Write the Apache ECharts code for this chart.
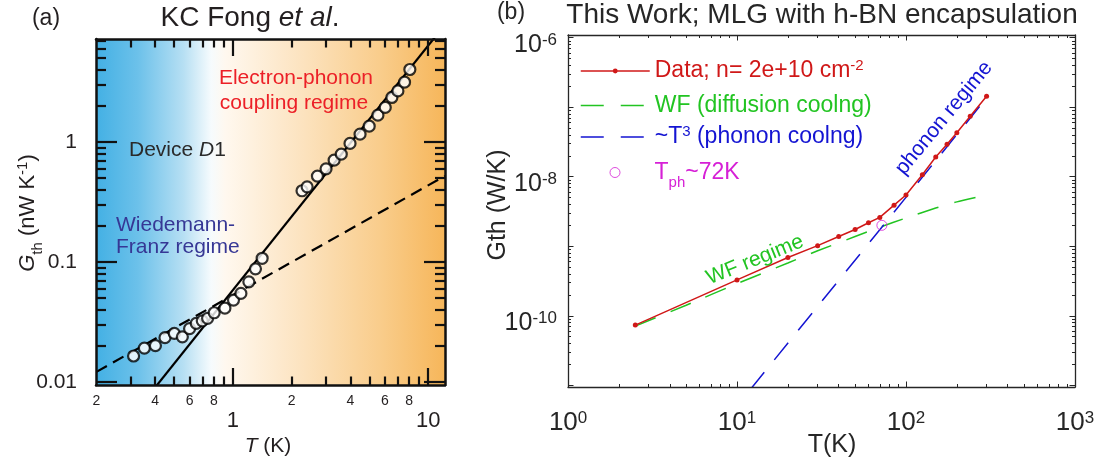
<!DOCTYPE html>
<html>
<head>
<meta charset="utf-8">
<script src="https://cdn.jsdelivr.net/npm/echarts@6/dist/echarts.min.js"></script>
<style>
  html, body { margin: 0; padding: 0; background: #fff; }
  #chart { width: 1101px; height: 466px; }
</style>
</head>
<body>
<div id="chart"></div>
<script>
// ---- (a) KC Fong et al. ----
const fongT = [0.31, 0.352, 0.401, 0.449, 0.501, 0.551, 0.600, 0.649, 0.697, 0.742, 0.802, 0.910,
  1.007, 1.099, 1.207, 1.305, 1.412, 2.26, 2.40, 2.71, 3.00, 3.30, 3.59, 3.98, 4.48, 4.99, 5.53,
  6.03, 6.52, 7.00, 7.57, 8.06]
const fongG = [0.0164, 0.0191, 0.0200, 0.0233, 0.0253, 0.0237, 0.0277, 0.0307, 0.0322, 0.0338, 0.0376,
  0.0411, 0.0480, 0.0545, 0.0681, 0.0874, 0.107, 0.391, 0.422, 0.518, 0.596, 0.704, 0.790, 0.970,
  1.159, 1.351, 1.669, 1.935, 2.344, 2.66, 3.145, 4.01]
// electron-phonon fit (solid) and Wiedemann-Franz line (dashed)
const ephT = [0.3, 12.2]
const ephG = [0.0050, 9.5]
const wfaT = [0.2, 12.2]
const wfaG = [0.0121, 0.52]

// tick values / labels, panel (a)
const aXMinor = [0.3, 0.4, 0.5, 0.6, 0.7, 0.8, 0.9, 2, 3, 4, 5, 6, 7, 8, 9]
const aXMajor = [1, 10]
const aXSmallVals = [0.2, 0.4, 0.6, 0.8, 2, 4, 6, 8]
const aXSmallText = ['2', '4', '6', '8', '2', '4', '6', '8']
const aXBigText = ['1', '10']
const aYMinor = [0.02, 0.03, 0.04, 0.05, 0.06, 0.07, 0.08, 0.09, 0.2, 0.3, 0.4, 0.5, 0.6, 0.7, 0.8, 0.9, 2, 3, 4, 5, 6, 7]
const aYMajor = [0.01, 0.1, 1]
const aYText = ['0.01', '0.1', '1']

// ---- (b) This work ----
const dataT = [2.5, 10, 20, 30, 40, 50, 60, 70, 85, 100, 125, 150, 175, 200, 240, 300]
const dataG = [7.35e-11, 3.28e-10, 6.89e-10, 1.02e-9, 1.38e-9, 1.74e-9, 2.18e-9, 2.6e-9, 3.9e-9,
  5.46e-9, 1.07e-8, 1.92e-8, 2.93e-8, 4.3e-8, 7.4e-8, 1.44e-7]
const wfbT = [2.5, 5, 10, 20, 30, 50, 70, 100, 150, 200, 300]
const wfbG = [7.1e-11, 1.42e-10, 2.9e-10, 5.75e-10, 8.6e-10, 1.38e-9, 1.88e-9, 2.55e-9, 3.55e-9, 4.35e-9, 5.46e-9]
const phT = [12, 300]
const phG = [8.73e-12, 1.364e-7]
const tphT = [72]
const tphG = [2.0e-9]

// tick values / labels, panel (b)
const bXMajor = [1, 10, 100, 1000]
const bXText = ['0', '1', '2', '3']
const bXMinor = [2, 3, 4, 5, 6, 7, 8, 9, 20, 30, 40, 50, 60, 70, 80, 90, 200, 300, 400, 500, 600, 700, 800, 900]
const bYMajor = [1e-11, 1e-10, 1e-9, 1e-8, 1e-7, 1e-6]
const bYLabelVals = [1e-10, 1e-8, 1e-6]
const bYText = ['-10', '-8', '-6']
const bYMinor = []
bYMajor.slice(0, 5).forEach(d => { for (let k = 2; k <= 9; k++) bYMinor.push(k * d) })

const FONT = '"Liberation Sans", Arial, Helvetica, sans-serif'
const INK_A = '#231f20'
const INK_B = '#262626'
const RED = '#d01818'
const GREEN = '#22c422'
const BLUE = '#1414d2'
const MAG = '#d620d6'

const zip = (xs, ys) => xs.map((x, i) => [x, ys[i]])
const pick = (vals, texts) => v => {
  const i = vals.findIndex(x => Math.abs(x - v) / x < 1e-6)
  return i < 0 ? '' : texts[i]
}

// one log axis that draws inward ticks (and optionally its line and labels)
function logAxis(grid, pos, min, max, ticks, len, color, width, line, label) {
  const a = {
    type: 'log', logBase: 10, gridIndex: grid, position: pos, min: min, max: max,
    axisLine: { show: !!line, lineStyle: { color: color, width: line || 1 } },
    splitLine: { show: false },
    axisTick: { show: true, inside: true, length: len, customValues: ticks, lineStyle: { color: color, width: width } },
    axisLabel: { show: false },
    z: 10
  }
  if (label) a.axisLabel = Object.assign({ show: true, hideOverlap: false, fontFamily: FONT }, label)
  return a
}

const supRich = (size, sup, color) => ({
  b: { fontSize: size, lineHeight: 26, verticalAlign: 'middle', color: color, fontFamily: FONT },
  s: { fontSize: sup, lineHeight: 16, padding: [0, 0, 18, 0], verticalAlign: 'top', color: color, fontFamily: FONT }
})

const aX = [0.199, 12.2]
const aY = [0.0094, 7.2]
const bX = [0.999, 1001]
const bY = [9.45e-12, 1.094e-6]

const xAxes = [
  logAxis(0, 'bottom', aX[0], aX[1], aXMinor, 8.5, '#111', 2.2, 0, {
    customValues: aXSmallVals, formatter: pick(aXSmallVals, aXSmallText), fontSize: 14, color: INK_A, margin: 9
  }),
  logAxis(0, 'bottom', aX[0], aX[1], aXMajor, 17, '#111', 2.2, 2.5, {
    customValues: aXMajor, formatter: pick(aXMajor, aXBigText), fontSize: 22, color: INK_A, margin: 25
  }),
  logAxis(0, 'top', aX[0], aX[1], aXMinor, 8.5, '#111', 2.2, 0),
  logAxis(0, 'top', aX[0], aX[1], aXMajor, 17, '#111', 2.2, 2.5),
  logAxis(1, 'bottom', bX[0], bX[1], bXMinor, 3, INK_B, 1, 0),
  logAxis(1, 'bottom', bX[0], bX[1], bXMajor, 5.5, INK_B, 1, 1.3, {
    customValues: bXMajor,
    formatter: v => '{b|10}{s|' + pick(bXMajor, bXText)(v) + '}',
    margin: 23, rich: supRich(26, 17, INK_B)
  }),
  logAxis(1, 'top', bX[0], bX[1], bXMinor, 3, INK_B, 1, 0),
  logAxis(1, 'top', bX[0], bX[1], bXMajor, 5.5, INK_B, 1, 1.3)
]

const yAxes = [
  logAxis(0, 'left', aY[0], aY[1], aYMinor, 10, '#111', 2.2, 0),
  logAxis(0, 'left', aY[0], aY[1], aYMajor, 21, '#111', 2.2, 2.5, {
    customValues: aYMajor, formatter: pick(aYMajor, aYText), fontSize: 21, color: INK_A, margin: 19
  }),
  logAxis(0, 'right', aY[0], aY[1], aYMinor, 10, '#111', 2.2, 0),
  logAxis(0, 'right', aY[0], aY[1], aYMajor, 21, '#111', 2.2, 2.5),
  logAxis(1, 'left', bY[0], bY[1], bYMinor, 3, INK_B, 1, 0),
  logAxis(1, 'left', bY[0], bY[1], bYMajor, 5.5, INK_B, 1, 1.3, {
    customValues: bYLabelVals,
    formatter: v => '{b|10}{s|' + pick(bYLabelVals, bYText)(v) + '}',
    margin: 11, padding: [14, 0, 0, 0], rich: supRich(25, 17, INK_B)
  }),
  logAxis(1, 'right', bY[0], bY[1], bYMinor, 3, INK_B, 1, 0),
  logAxis(1, 'right', bY[0], bY[1], bYMajor, 5.5, INK_B, 1, 1.3)
]

// panel (a) background: blue (cold) -> white -> orange (hot)
const bgA = new echarts.graphic.LinearGradient(0, 0, 1, 0, [
  { offset: 0, color: '#43b0e4' },
  { offset: 0.12, color: '#6cc1ea' },
  { offset: 0.25, color: '#b6dff3' },
  { offset: 0.33, color: '#f6fbfd' },
  { offset: 0.37, color: '#fff8ef' },
  { offset: 0.6, color: '#fce2bd' },
  { offset: 0.82, color: '#f9cc8a' },
  { offset: 1, color: '#f6b65a' }
])

// rich-text tokens for graphic texts (zrender style: fill)
function tok(size, color, extra) {
  return Object.assign({ fontSize: size, fontFamily: FONT, fill: color, color: color, lineHeight: 26, verticalAlign: 'middle' }, extra || {})
}
function text(x, y, str, size, color, opt) {
  opt = opt || {}
  const rich = {
    n: tok(size, color),
    i: tok(size, color, { fontStyle: 'italic' }),
    u: tok(15, color, { lineHeight: 14, padding: [15, 0, 0, 0], verticalAlign: 'top' }),
    s: tok(15, color, { lineHeight: 14, padding: [0, 0, 16, 0], verticalAlign: 'top' })
  }
  return {
    type: 'text', x: x, y: y, rotation: (opt.rot || 0) * Math.PI / 180, silent: true, z: 100,
    style: {
      text: str, rich: rich, fill: color, fontSize: size, fontFamily: FONT,
      align: opt.align || 'center', verticalAlign: 'middle',
      textAlign: opt.align || 'center', textVerticalAlign: 'middle'
    }
  }
}

const graphics = [
  { type: 'rect', shape: { x: 96, y: 39, width: 349, height: 346 }, style: { fill: bgA }, silent: true, z: -10 },
  text(46, 19, '{n|(a)}', 23, INK_A),
  text(250, 18, '{n|KC Fong }{i|et al}{n|.}', 28, INK_A),
  text(296, 78, '{n|Electron-phonon}', 21, '#ec2027'),
  text(294, 103, '{n|coupling regime}', 21, '#ec2027'),
  text(129, 150, '{n|Device }{i|D}{n|1}', 21, '#2a2a2a', { align: 'left' }),
  text(116, 225, '{n|Wiedemann-}', 21, '#363795', { align: 'left' }),
  text(116, 247, '{n|Franz regime}', 21, '#363795', { align: 'left' }),
  text(268, 446, '{i|T}{n| (K)}', 21, INK_A),
  text(28, 213, '{i|G}{u|th}{n| (nW K}{s|-1}{n|)}', 22, INK_A, { rot: 90 }),
  text(511, 13, '{n|(b)}', 23, INK_B),
  text(822, 15, '{n|This Work; MLG with h-BN encapsulation}', 28, INK_B),
  text(832, 445, '{n|T(K)}', 25, INK_B),
  text(498, 205, '{n|Gth (W/K)}', 25, INK_B, { rot: 90 }),
  text(944, 118, '{n|phonon regime}', 21, BLUE, { rot: 50.5 }),
  text(755, 260, '{n|WF regime}', 21, GREEN, { rot: 22 })
]

const legRich = color => ({
  b: { fontSize: 23, lineHeight: 26, verticalAlign: 'middle', color: color, fontFamily: FONT },
  s: { fontSize: 15, lineHeight: 16, padding: [0, 0, 16, 0], verticalAlign: 'top', color: color, fontFamily: FONT },
  u: { fontSize: 15, lineHeight: 16, padding: [16, 0, 0, 0], verticalAlign: 'top', color: color, fontFamily: FONT }
})
function legend(name, top, label, color, extra) {
  const l = Object.assign({
    data: [name], left: 580, top: top, padding: 0, orient: 'horizontal',
    itemWidth: 69, itemHeight: 6, selectedMode: false,
    formatter: () => label,
    textStyle: { color: color, fontFamily: FONT, fontSize: 23, rich: legRich(color) }
  }, extra || {})
  return l
}

const chart = echarts.init(document.getElementById('chart'), null, { renderer: 'canvas' })
chart.setOption({
  animation: false,
  backgroundColor: '#fff',
  grid: [
    { left: 96, top: 39, width: 349, height: 346, show: false, outerBoundsMode: 'none' },
    { left: 568, top: 35, width: 507, height: 352, show: false, outerBoundsMode: 'none' }
  ],
  xAxis: xAxes,
  yAxis: yAxes,
  legend: [
    legend('Data', 58, '{b|Data; n= 2e+10 cm}{s|-2}', RED, { lineStyle: { width: 1.5 } }),
    legend('WF', 94, '{b|WF (diffusion coolng)}', GREEN, { itemStyle: { opacity: 0 }, lineStyle: { width: 1.5, type: [23, 17] } }),
    legend('T3', 124, '{b|~T}{s|3}{b| (phonon coolng)}', BLUE, { itemStyle: { opacity: 0 }, lineStyle: { width: 1.5, type: [23, 17] } }),
    legend('Tph', 159.5, '{b|T}{u|ph}{b|~72K}', MAG, {
      left: 609.5, itemWidth: 10, itemHeight: 10, icon: 'circle',
      itemStyle: { color: 'rgba(0,0,0,0)', borderColor: MAG, borderWidth: 1 },
      textStyle: { color: MAG, fontFamily: FONT, fontSize: 23, padding: [0, 0, 0, 29.5], rich: legRich(MAG) }
    })
  ],
  graphic: { elements: graphics },
  series: [
    { name: 'eph', type: 'line', xAxisIndex: 0, yAxisIndex: 0, data: zip(ephT, ephG), symbol: 'none',
      lineStyle: { color: '#000', width: 2.2 }, silent: true, z: 2 },
    { name: 'wfA', type: 'line', xAxisIndex: 0, yAxisIndex: 0, data: zip(wfaT, wfaG), symbol: 'none',
      lineStyle: { color: '#000', width: 2.2, type: [12, 7] }, silent: true, z: 2 },
    { name: 'fong', type: 'scatter', xAxisIndex: 0, yAxisIndex: 0, data: zip(fongT, fongG),
      symbol: 'circle', symbolSize: 11, itemStyle: { color: '#fff', borderColor: '#000', borderWidth: 2.2 }, silent: true, z: 3 },
    { name: 'WF', type: 'line', xAxisIndex: 4, yAxisIndex: 4, data: zip(wfbT, wfbG), symbol: 'none', smooth: 0.2,
      itemStyle: { color: GREEN }, lineStyle: { color: GREEN, width: 1.5, type: [22, 16] }, silent: true, z: 2 },
    { name: 'T3', type: 'line', xAxisIndex: 4, yAxisIndex: 4, data: zip(phT, phG), symbol: 'none',
      itemStyle: { color: BLUE }, lineStyle: { color: BLUE, width: 1.5, type: [22, 16] }, silent: true, z: 2 },
    { name: 'Data', type: 'line', xAxisIndex: 4, yAxisIndex: 4, data: zip(dataT, dataG), symbol: 'circle', symbolSize: 5,
      itemStyle: { color: RED }, lineStyle: { color: RED, width: 1.5 }, silent: true, z: 3 },
    { name: 'Tph', type: 'scatter', xAxisIndex: 4, yAxisIndex: 4, data: zip(tphT, tphG), symbol: 'circle', symbolSize: 10,
      itemStyle: { color: 'rgba(0,0,0,0)', borderColor: MAG, borderWidth: 1 }, silent: true, z: 4 }
  ]
})
</script>
</body>
</html>
